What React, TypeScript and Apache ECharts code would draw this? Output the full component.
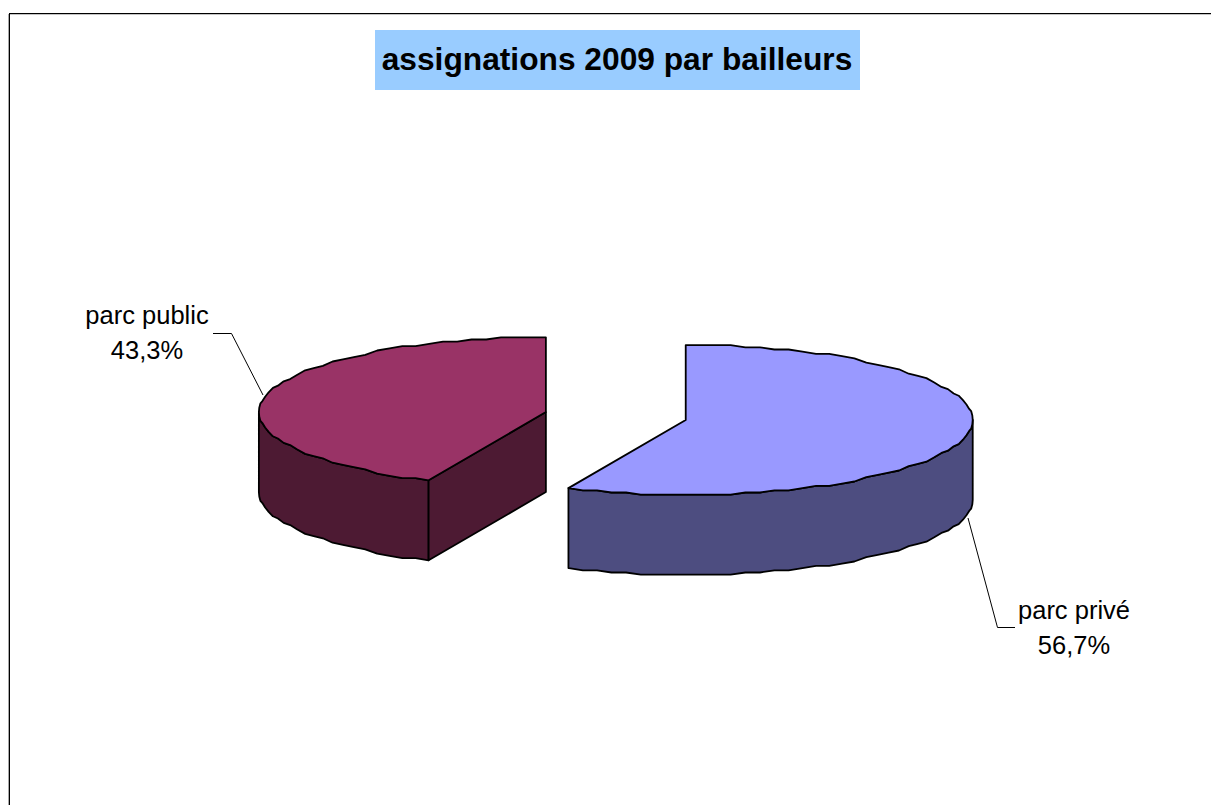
import React, { useEffect, useRef } from "react";
import * as echarts from "echarts";

const titleText = "assignations 2009 par bailleurs";
const categories = ["parc privé", "parc public"];
const shares = [56.7, 43.3];
const topColors = ["#9999ff", "#993366"];
const sideColors = ["#4d4d80", "#4d1a33"];

const CX = 615.8, CY = 416, RX = 287, RY = 75, DEPTH = 80, EXPLODE = 71.5, STEP = 3, GRID = 2.2;
const total = shares.reduce((a, b) => a + b, 0);

function renderSlice(params: any, api: any) {
  const i = params.dataIndex;
  const before = shares.slice(0, i).reduce((a, b) => a + b, 0);
  const a0 = (before / total) * 360;
  const a1 = a0 + (api.value(0) / total) * 360;
  const mid = ((a0 + a1) / 2) * Math.PI / 180;
  const ox = CX + EXPLODE * Math.sin(mid);
  const oy = CY - EXPLODE * Math.cos(mid) * (RY / RX);
  // The rim height is snapped to a coarse grid, which gives the edge its slightly uneven look.
  const snap = (v: number) => Math.round(v / GRID) * GRID;
  const pt = (deg: number, dz = 0) => {
    const r = deg * Math.PI / 180;
    return [ox + RX * Math.sin(r), oy + snap(-RY * Math.cos(r)) + dz];
  };
  // Sampling angles are shared by the top face and the wall so their edges coincide.
  const arc = (from: number, to: number, dz = 0) => {
    const angles = [from];
    for (let d = Math.ceil(from / STEP) * STEP; d < to; d += STEP) if (d > from) angles.push(d);
    angles.push(to);
    return angles.map((d) => pt(d, dz));
  };
  const apex = [ox, oy];
  const children: any[] = [];
  const stroke = { stroke: "#000", lineWidth: 1.8, lineJoin: "round" };
  // visible outer wall: the front half of the ellipse (90..270 degrees)
  const wallFrom = Math.max(a0, 90), wallTo = Math.min(a1, 270);
  if (wallTo > wallFrom) {
    const top = arc(wallFrom, wallTo);
    const bottom = arc(wallFrom, wallTo, DEPTH).reverse();
    children.push({
      type: "polygon",
      shape: { points: [...top, ...bottom] },
      style: { fill: sideColors[i], ...stroke },
    });
  }
  // visible cut face: start edge of a slice lying in the left/front quadrant
  if (a0 > 180 && a0 < 360) {
    const p = pt(a0);
    children.push({
      type: "polygon",
      shape: { points: [p, apex, [apex[0], apex[1] + DEPTH], [p[0], p[1] + DEPTH]] },
      style: { fill: sideColors[i], ...stroke },
    });
  }
  children.push({
    type: "polygon",
    shape: { points: [apex, ...arc(a0, a1)] },
    style: { fill: topColors[i], ...stroke },
  });
  return { type: "group", children };
}

const leaderStyle = { stroke: "#000", lineWidth: 1 };
const labelStyle = {
  fill: "#000",
  font: "25.5px 'Liberation Sans', Arial, sans-serif",
  align: "center",
  verticalAlign: "middle",
  lineHeight: 35,
};
const pct = (v: number) => v.toFixed(1).replace(".", ",") + "%";

export default function App() {
  const ref = useRef<HTMLDivElement>(null);
  useEffect(() => {
    document.body.style.margin = "0";
    document.documentElement.style.overflow = "hidden";
    const chart = echarts.init(ref.current!, null, { renderer: "svg" });
    chart.setOption({
      animation: false,
      backgroundColor: "#fff",
      series: [
        {
          type: "custom",
          coordinateSystem: "none",
          silent: true,
          data: shares.map((v) => [v]),
          renderItem: renderSlice,
        },
      ],
      graphic: [
        { type: "line", shape: { x1: 8.5, y1: 14, x2: 8.5, y2: 805 }, style: { stroke: "#a8a8a8", lineWidth: 1 } },
        { type: "line", shape: { x1: 9, y1: 14.5, x2: 1211, y2: 14.5 }, style: { stroke: "#c4c4c4", lineWidth: 1 } },
        { type: "line", shape: { x1: 9.5, y1: 13, x2: 9.5, y2: 805 }, style: { stroke: "#000", lineWidth: 1 } },
        { type: "line", shape: { x1: 9, y1: 13.5, x2: 1211, y2: 13.5 }, style: { stroke: "#000", lineWidth: 1 } },
        { type: "rect", shape: { x: 375, y: 30, width: 485, height: 60 }, style: { fill: "#99ccff" } },
        {
          type: "text",
          x: 617,
          y: 60,
          scaleX: 1.04,
          style: {
            text: titleText,
            fill: "#000",
            font: "bold 30.5px 'Liberation Sans', Arial, sans-serif",
            align: "center",
            verticalAlign: "middle",
          },
        },
        { type: "polyline", shape: { points: [[213, 333.5], [231.5, 333.5], [263, 395]] }, style: { ...leaderStyle, fill: "none" } },
        { type: "polyline", shape: { points: [[968, 518], [997.5, 627.5], [1015, 627.5]] }, style: { ...leaderStyle, fill: "none" } },
        { type: "text", x: 147, y: 332, style: { ...labelStyle, text: categories[1] + "\n" + pct(shares[1]) } },
        { type: "text", x: 1074, y: 627, style: { ...labelStyle, text: categories[0] + "\n" + pct(shares[0]) } },
      ],
    });
    return () => chart.dispose();
  }, []);
  return <div ref={ref} style={{ width: 1211, height: 805 }} />;
}
